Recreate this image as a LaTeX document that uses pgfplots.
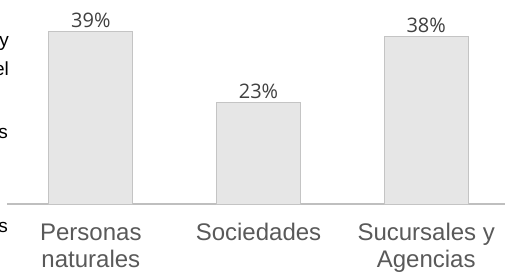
\documentclass[border=0pt]{standalone}
\usepackage{pgfplots}
\pgfplotsset{compat=1.18}
\usepackage{fontspec}
\setmainfont{Liberation Sans}
\newfontfamily\osans{Open Sans}
\definecolor{barfill}{HTML}{E6E6E6}
\definecolor{bardraw}{HTML}{C4C4C4}
\definecolor{axisgray}{HTML}{BFBFBF}
\definecolor{labgray}{HTML}{595959}
\definecolor{numgray}{HTML}{404040}
\begin{document}
\begin{tikzpicture}
\useasboundingbox (0,0) rectangle (506pt,271pt);
\begin{axis}[
  at={(7pt,67pt)}, anchor=south west,
  scale only axis, width=498pt, height=198.9pt,
  xmin=-0.5, xmax=2.47, ymin=0, ymax=45,
  axis x line*=bottom, axis y line=none,
  x axis line style={draw=axisgray, line width=2pt, -},
  xtick={0,1,2},
  xticklabels={{Personas\\naturales},{Sociedades},{Sucursales y\\Agencias}},
  xticklabel style={align=center, font=\fontsize{24}{27}\selectfont, text=labgray, yshift=-16pt},
  major tick length=0pt,
  ytick=\empty,
  clip=false,
  ybar, bar width=84pt,
  /pgf/number format/assume math mode=true,
  nodes near coords={\pgfmathprintnumber{\pgfplotspointmeta}\%},
  nodes near coords style={font=\osans\fontsize{20}{24}\selectfont, text=numgray, anchor=south},
]
\addplot[fill=barfill, draw=bardraw, line width=1pt] coordinates {(0,39) (1,23) (2,38)};
\end{axis}
\node[anchor=base east, font=\fontsize{19}{20}\selectfont, inner sep=0pt] at (9pt,224pt) {y};
\node[anchor=base east, font=\fontsize{19}{20}\selectfont, inner sep=0pt] at (9pt,196pt) {el};
\node[anchor=base east, font=\fontsize{19}{20}\selectfont, inner sep=0pt] at (8pt,133pt) {s};
\node[anchor=base east, font=\fontsize{19}{20}\selectfont, inner sep=0pt] at (8pt,39pt) {s};
\end{tikzpicture}
\end{document}
